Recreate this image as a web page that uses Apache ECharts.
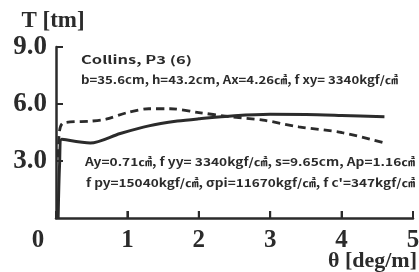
<!DOCTYPE html>
<html style="height: 100%">
<head>
    <meta charset="utf-8">
    <script src="https://fastly.jsdelivr.net/npm/echarts@6.0.0/dist/echarts.min.js"></script>
    <title>Collins P3</title>
</head>
<body style="height: 100%; margin: 0; background: #fff">
<div id="container" style="width: 419px; height: 272px"></div>

<script type="text/javascript">
    // theta [deg/m], T [tm]
    var solidData = [[0.03, 0], [0.05, 2.8], [0.08, 4.15], [0.48, 3.95], [0.9, 4.45], [1.3, 4.85],
        [1.7, 5.1], [2.0, 5.22], [2.5, 5.38], [3.0, 5.46], [3.5, 5.45], [4.0, 5.4], [4.6, 5.33]];
    var dashedData = [[0.03, 3.2], [0.05, 4.6], [0.1, 5.0], [0.5, 5.1], [0.7, 5.2], [1.0, 5.55],
        [1.3, 5.75], [1.6, 5.75], [2.0, 5.55], [2.4, 5.35], [2.9, 5.15], [3.4, 4.8], [4.0, 4.5], [4.6, 3.95]];
    var xTicks = [0, 1, 2, 3, 4, 5];
    var yTicks = [3.0, 6.0, 9.0];
    var noteLines = [
        'Collins, P3 (6)',
        'b=35.6cm, h=43.2cm, Ax=4.26㎠, f xy= 3340kgf/㎠',
        'Ay=0.71㎠, f yy= 3340kgf/㎠, s=9.65cm, Ap=1.16㎠',
        'f py=15040kgf/㎠, σpi=11670kgf/㎠, f c\'=347kgf/㎠'
    ];

    var ink = '#2b2b2b';
    var serif = '"Liberation Serif", "DejaVu Serif", serif';
    var noteFont = 'bold 11px "Noto Sans CJK JP"';

    // squeeze the note lines to the width they take in the picture
    var ctx = document.createElement('canvas').getContext('2d');
    ctx.font = noteFont;
    var notePos = [[81, 60, 111], [81, 80, 317], [85, 162, 330], [86, 183, 329]];
    var graphics = noteLines.map(function (t, i) {
        var w = ctx.measureText(t).width;
        return {
            type: 'text',
            x: notePos[i][0],
            y: notePos[i][1],
            scaleX: notePos[i][2] / w,
            style: {
                text: t,
                font: noteFont,
                fill: ink,
                textVerticalAlign: 'middle'
            }
        };
    });

    // inward ticks drawn through the axes' own scales
    function tickItem(dir) {
        return function (params, api) {
            var p = api.coord([api.value(0), api.value(1)]);
            var dx = dir === 'x' ? 0 : 7;
            var dy = dir === 'x' ? -7 : 0;
            return {
                type: 'line',
                shape: {x1: p[0], y1: p[1], x2: p[0] + dx, y2: p[1] + dy},
                style: {stroke: ink, lineWidth: 2}
            };
        };
    }

    var myChart = echarts.init(document.getElementById('container'), null, {renderer: 'canvas'});

    var option = {
        backgroundColor: '#fff',
        animation: false,
        grid: {left: 56, right: 6, top: 47, bottom: 54, outerBoundsMode: 'none'},
        xAxis: {
            type: 'value',
            min: 0,
            max: 5,
            interval: 1,
            name: 'θ [deg/m]',
            nameLocation: 'end',
            nameGap: 4,
            nameMoveOverlap: false,
            nameTextStyle: {
                fontFamily: serif, fontWeight: 'bold', fontSize: 22, color: ink,
                align: 'right', verticalAlign: 'top', padding: [32, 0, 0, 0]
            },
            splitLine: {show: false},
            axisLine: {show: true, lineStyle: {color: ink, width: 2.5}},
            axisTick: {show: true, inside: true, length: 7, lineStyle: {color: ink, width: 2}},
            axisLabel: {
                margin: 10,
                fontFamily: serif, fontWeight: 'bold', fontSize: 25, color: ink,
                formatter: function (v) {
                    return xTicks.indexOf(v) === 0 ? '{z|0}' : String(v);
                },
                rich: {
                    z: {fontFamily: serif, fontWeight: 'bold', fontSize: 25, color: ink, padding: [0, 36, 0, 0]}
                }
            }
        },
        yAxis: {
            type: 'value',
            min: 0,
            max: 9,
            interval: 3,
            name: 'T [tm]',
            nameGap: 14,
            nameMoveOverlap: false,
            nameTextStyle: {fontFamily: serif, fontWeight: 'bold', fontSize: 23, color: ink, padding: [0, 6, 0, 0]},
            splitLine: {show: false},
            axisLine: {show: true, lineStyle: {color: ink, width: 2.5}},
            axisTick: {show: true, inside: true, length: 7, lineStyle: {color: ink, width: 2}},
            axisLabel: {
                margin: 9,
                showMinLabel: false,
                fontFamily: serif, fontWeight: 'bold', fontSize: 27, color: ink,
                formatter: function (v) {
                    return yTicks.indexOf(v) >= 0 ? v.toFixed(1) : '';
                }
            }
        },
        series: [
            {
                type: 'line',
                data: solidData,
                showSymbol: false,
                smooth: 0.3,
                lineStyle: {color: ink, width: 3}
            },
            {
                type: 'line',
                data: dashedData,
                showSymbol: false,
                smooth: 0.3,
                lineStyle: {color: ink, width: 2.8, type: [8, 5]}
            },
            {
                type: 'custom',
                clip: false,
                silent: true,
                renderItem: tickItem('x'),
                data: xTicks.slice(1).map(function (v) { return [v, 0]; })
            },
            {
                type: 'custom',
                clip: false,
                silent: true,
                renderItem: tickItem('y'),
                data: yTicks.map(function (v) { return [0, v]; })
            }
        ],
        graphic: graphics
    };

    myChart.setOption(option);
</script>
</body>
</html>
